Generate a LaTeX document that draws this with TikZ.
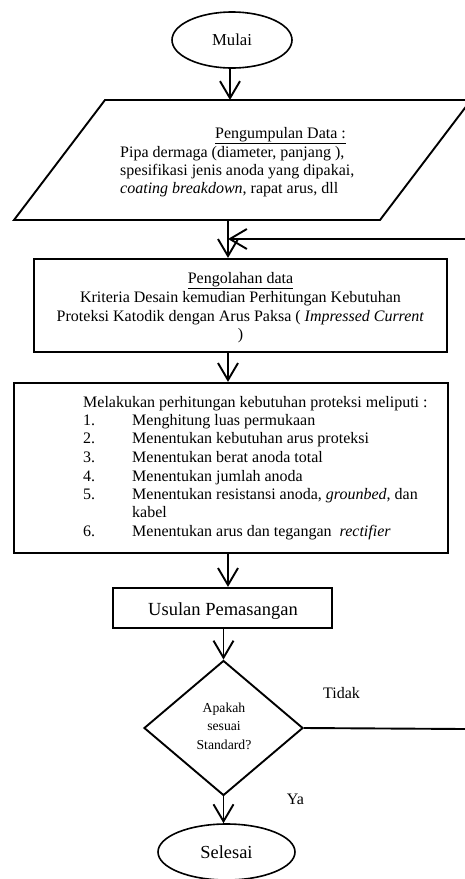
\documentclass[tikz,border=0pt]{standalone}
\usepackage{fontspec}
\setmainfont{Liberation Serif}
\usetikzlibrary{arrows.meta,shapes.geometric}
\tikzset{
  line/.style={line width=1.9pt},
  arr/.style={line width=1.9pt,-{Straight Barb[length=17pt,width=20pt]}},
  shapebox/.style={draw,line width=2.2pt,inner sep=0pt},
  roundbox/.style={draw,line width=1.6pt,inner sep=0pt,ellipse},
  txt/.style={inner sep=0pt,font=\fontsize{16}{18.4}\selectfont},
  bigtxt/.style={inner sep=0pt,font=\fontsize{18.5}{21}\selectfont},
  smalltxt/.style={inner sep=0pt,font=\fontsize{13.7}{16}\selectfont},
}
\begin{document}
\begin{tikzpicture}[x=1pt,y=-1pt]
\useasboundingbox (0,0) rectangle (465,879);

% start
\node[roundbox,minimum width=120pt,minimum height=56pt,font=\fontsize{16.7}{19}\selectfont] (mulai) at (232,40) {Mulai};

% input parallelogram
\draw[line] (105,100) -- (471,100) -- (380,220) -- (14,220) -- cycle;
\coordinate (pt) at (230,100);
\coordinate (pb) at (228,220);
\node[txt,anchor=base west] (in0) at (215,138) {\underline{Pengumpulan Data :}};
\node[txt,anchor=base west] (in1) at (120,157) {Pipa dermaga (diameter, panjang ),};
\node[txt,anchor=base west] (in2) at (120,175) {spesifikasi jenis anoda yang dipakai,};
\node[txt,anchor=base west] (in3) at (120,193) {\textit{coating breakdown}, rapat arus, dll};

% processing box
\node[shapebox,minimum width=413pt,minimum height=93pt] (olah) at (240.5,305.5) {};
\node[txt,anchor=base] (ol0) at (240.5,283) {\underline{Pengolahan data}};
\node[txt,anchor=base] (ol1) at (240.5,302) {Kriteria Desain kemudian Perhitungan Kebutuhan};
\node[txt,anchor=base] (ol2) at (240.5,321) {Proteksi Katodik dengan Arus Paksa ( \textit{Impressed Current}};
\node[txt,anchor=base] (ol3) at (240.5,339) {)};

% calculation box
\node[shapebox,minimum width=434pt,minimum height=170pt] (hitung) at (231,468) {};
\node[txt,anchor=base west] (h0) at (83,407.5) {Melakukan perhitungan kebutuhan proteksi meliputi :};
\node[txt,anchor=base west] (n1) at (83,425.5) {1.};
\node[txt,anchor=base west] (t1) at (132,425.5) {Menghitung luas permukaan};
\node[txt,anchor=base west] (n2) at (83,443.5) {2.};
\node[txt,anchor=base west] (t2) at (132,443.5) {Menentukan kebutuhan arus proteksi};
\node[txt,anchor=base west] (n3) at (83,462) {3.};
\node[txt,anchor=base west] (t3) at (132,462) {Menentukan berat anoda total};
\node[txt,anchor=base west] (n4) at (83,481) {4.};
\node[txt,anchor=base west] (t4) at (132,481) {Menentukan jumlah anoda};
\node[txt,anchor=base west] (n5) at (83,499) {5.};
\node[txt,anchor=base west] (t5) at (132,499) {Menentukan resistansi anoda, \textit{grounbed}, dan};
\node[txt,anchor=base west] (t5b) at (132,517.5) {kabel};
\node[txt,anchor=base west] (n6) at (83,536) {6.};
\node[txt,anchor=base west] (t6) at (132,536) {Menentukan arus dan tegangan~ \textit{rectifier}};

% proposal box
\node[shapebox,minimum width=219pt,minimum height=40pt] (usulan) at (222.5,608) {};
\node[bigtxt,anchor=base] (usulantxt) at (223,615) {Usulan Pemasangan};

% decision
\node[draw,line width=1.9pt,inner sep=0pt,diamond,minimum width=159pt,minimum height=135pt] (dec) at (223.5,728) {};
\node[smalltxt,anchor=base] (d1) at (224,712) {Apakah};
\node[smalltxt,anchor=base] (d2) at (224,730.5) {sesuai};
\node[smalltxt,anchor=base] (d3) at (224,749) {Standard?};
\node[txt,anchor=base] (tidak) at (341.5,698) {Tidak};
\node[txt,anchor=base] (ya) at (295.5,804) {Ya};

% end
\node[roundbox,minimum width=137pt,minimum height=56pt,font=\fontsize{18.4}{21}\selectfont] (selesai) at (226.5,852) {Selesai};

% feedback coordinates
\coordinate (fbin) at (465,239);
\coordinate (fbj) at (228,239);
\coordinate (fbout) at (465,729);

% connectors
\draw[arr] (mulai.south -| pt) -- (pt);
\draw[arr] (pb) -- (pb |- olah.north);
\draw[arr] (fbin) -- (fbj);
\draw[arr] (pb |- olah.south) -- (pb |- hitung.north);
\draw[arr] (pb |- hitung.south) -- (pb |- usulan.north);
\draw[arr] (usulan.south -| dec.north) -- (dec.north);
\draw[arr] (dec.south) -- (dec.south |- selesai.north);
\draw[line] (dec.east) -- (fbout);
\end{tikzpicture}
\end{document}
